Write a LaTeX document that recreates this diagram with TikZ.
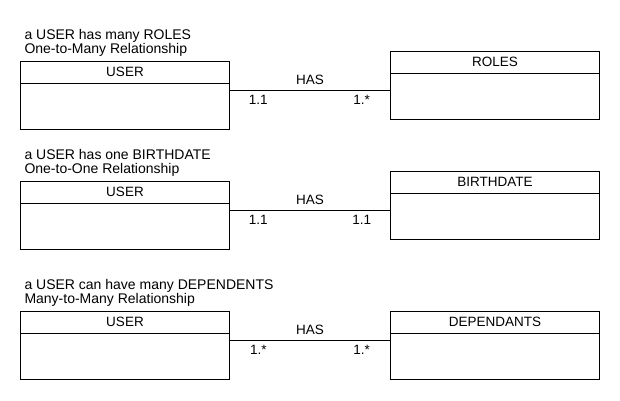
\documentclass[tikz,border=0pt]{standalone}
\usepackage{fontspec}
\setmainfont{Liberation Sans}
\usetikzlibrary{positioning,calc}

\begin{document}
\begin{tikzpicture}
            [
            x=1pt, y=-1pt,
            font=\fontsize{13.5}{15}\selectfont,
            line width=1pt,
            entity/.style={rectangle, draw, minimum width=208.6pt,
                minimum height=68pt, inner sep=0pt, outer sep=0pt},
            header/.style={rectangle, draw, minimum width=208.6pt,
                minimum height=22.3pt, inner sep=0pt, outer sep=0pt, anchor=north},
            caption/.style={inner sep=0pt, anchor=base west,
                font=\fontsize{14}{15}\selectfont},
            mult/.style={inner sep=0pt, below=4.5pt}
            ]

            \useasboundingbox (0,0) rectangle (620,400);

            % Captions
            \node (t1) [caption] at (24,39) {a USER has many ROLES};
            \node (s1) [below=14.5pt of t1.base west, caption] {One-to-Many Relationship};
            \node (t2) [caption] at (24,159) {a USER has one BIRTHDATE};
            \node (s2) [below=14.5pt of t2.base west, caption] {One-to-One Relationship};
            \node (t3) [caption] at (24,289) {a USER can have many DEPENDENTS};
            \node (s3) [below=14.5pt of t3.base west, caption] {Many-to-Many Relationship};

            \foreach \i/\y/\other/\dy/\lm/\rm in
                {1/95/ROLES/10pt/1.1/1.*,
                 2/215/BIRTHDATE/10pt/1.1/1.1,
                 3/345/DEPENDANTS/0pt/1.*/1.*}{
                \node (user\i) [entity] at (125,\y) {};
                \node (ent\i) [entity, right=161.4pt of user\i, yshift=\dy] {};
                \node (userh\i) [header] at (user\i.north) {USER};
                \node (enth\i) [header] at (ent\i.north) {\other};

                \draw ([yshift=4.5pt]user\i.east) -- ([yshift=4.5pt]user\i.east -| ent\i.west)
                    node [midway, above=5pt, inner sep=0pt] {HAS}
                    node [pos=0.18, mult] {\lm}
                    node [pos=0.82, mult] {\rm};
            }

        \end{tikzpicture}
\end{document}
